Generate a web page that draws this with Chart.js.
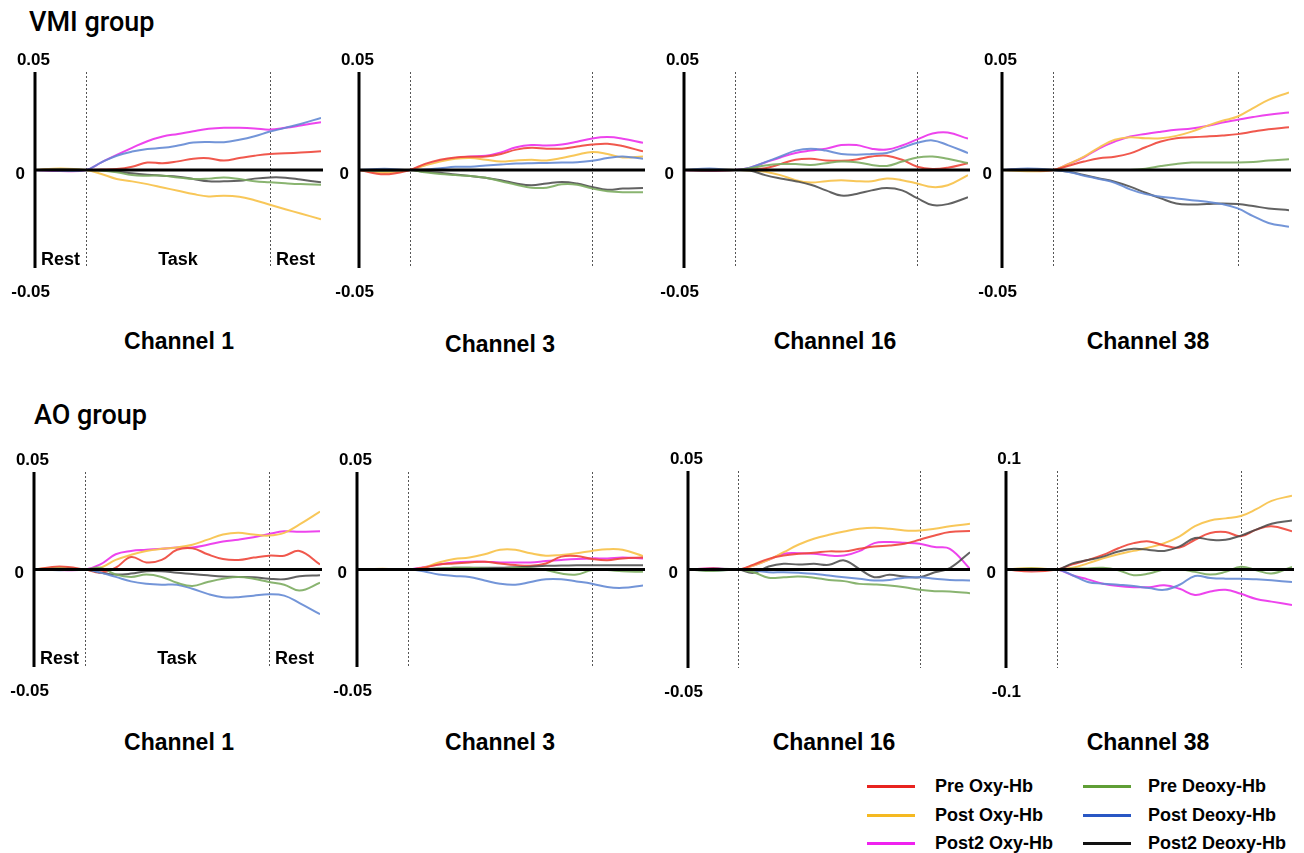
<!DOCTYPE html>
<html>
<head>
<meta charset="utf-8">
<script src="https://cdn.jsdelivr.net/npm/chart.js@4.4.1/dist/chart.umd.min.js"></script>
<style>
  body { margin: 0; background: #fff; width: 1304px; height: 853px; position: relative; overflow: hidden;
         font-family: "Liberation Sans", Arial, sans-serif; color: #000; }
  canvas { position: absolute; }
  .grp { position: absolute; font-family: Roboto, "Liberation Sans", Arial, sans-serif; font-weight: 500; font-size: 27px; line-height: 1; white-space: nowrap; }
  .ch { position: absolute; font-size: 23px; font-weight: bold; line-height: 1; white-space: nowrap; transform: translate(-50%, -50%); }
  .lg { position: absolute; font-size: 18px; font-weight: bold; line-height: 1; white-space: nowrap; transform: translateY(-50%); }
  .lgline { position: absolute; width: 48px; height: 3px; }
</style>
</head>
<body>
<script>
// time axis (s): rest 0-10, task 10-46, rest 46-56
const times = [0, 5, 10, 13, 16, 19, 22, 25, 28, 31, 34, 37, 40, 43, 46, 49, 52, 56];
const phaseBounds = [0, 10, 46, 56];
const phaseLabels = ['Rest', 'Task', 'Rest'];

const seriesNames = ['Pre Oxy-Hb', 'Post Oxy-Hb', 'Post2 Oxy-Hb', 'Pre Deoxy-Hb', 'Post Deoxy-Hb', 'Post2 Deoxy-Hb'];
const groupNames = ['VMI group', 'AO group'];
const channelNames = ['Channel 1', 'Channel 3', 'Channel 16', 'Channel 38'];
const yLimits = [0.05, 0.05, 0.05, 0.05, 0.05, 0.05, 0.05, 0.1];
const tickTop = ['0.05', '0.05', '0.05', '0.05', '0.05', '0.05', '0.05', '0.1'];
const tickBottom = ['-0.05', '-0.05', '-0.05', '-0.05', '-0.05', '-0.05', '-0.05', '-0.1'];

// VMI group, Channel 1
const vmi1_preOxy     = [0, 0.0003, 0, 0.0002, 0.0005, 0.0017, 0.0038, 0.0034, 0.0044, 0.0058, 0.006, 0.0048, 0.0061, 0.0073, 0.0082, 0.0085, 0.0089, 0.0096];
const vmi1_postOxy    = [0, 0.0008, 0, -0.002, -0.0046, -0.0058, -0.0072, -0.0089, -0.0106, -0.0123, -0.0135, -0.0131, -0.0136, -0.0154, -0.0177, -0.02, -0.0222, -0.0251];
const vmi1_post2Oxy   = [0, -0.0005, 0, 0.0039, 0.0077, 0.0113, 0.0147, 0.0171, 0.0184, 0.0198, 0.021, 0.0215, 0.0215, 0.0212, 0.0206, 0.0215, 0.0227, 0.0244];
const vmi1_preDeoxy   = [0, 0.0003, 0, -0.0003, -0.0012, -0.0026, -0.0029, -0.0029, -0.0038, -0.0046, -0.0044, -0.0038, -0.0046, -0.0058, -0.0063, -0.0068, -0.0072, -0.0075];
const vmi1_postDeoxy  = [0, -0.0004, 0, 0.0039, 0.0073, 0.0094, 0.0107, 0.0113, 0.0125, 0.014, 0.0143, 0.0142, 0.0154, 0.0172, 0.0196, 0.0215, 0.0235, 0.0266];
const vmi1_post2Deoxy = [0, 0.0002, 0, -0.0002, -0.0007, -0.0017, -0.0024, -0.0029, -0.0034, -0.0046, -0.0058, -0.0058, -0.0055, -0.0044, -0.0038, -0.0039, -0.0049, -0.0063];

// VMI group, Channel 3
const vmi3_preOxy     = [0, -0.0022, 0, 0.0031, 0.0052, 0.0064, 0.0068, 0.0069, 0.0082, 0.0104, 0.0113, 0.0109, 0.0109, 0.012, 0.013, 0.0134, 0.0122, 0.0095];
const vmi3_postOxy    = [0, -0.0015, 0, 0.0023, 0.0043, 0.0057, 0.0061, 0.0052, 0.0043, 0.0049, 0.0052, 0.0049, 0.0061, 0.0078, 0.0092, 0.0082, 0.0064, 0.0069];
const vmi3_post2Oxy   = [0, -0.0008, 0, 0.0026, 0.0047, 0.0061, 0.0069, 0.0073, 0.009, 0.0116, 0.0127, 0.0125, 0.013, 0.0144, 0.0161, 0.0168, 0.016, 0.0139];
const vmi3_preDeoxy   = [0, -0.0005, 0, -0.0012, -0.0021, -0.0026, -0.0031, -0.004, -0.0057, -0.0075, -0.009, -0.009, -0.0073, -0.0075, -0.0095, -0.0108, -0.0113, -0.0113];
const vmi3_postDeoxy  = [0, 0.0006, 0, 0.0002, 0.0009, 0.0016, 0.0017, 0.0023, 0.0028, 0.0033, 0.0035, 0.0036, 0.0038, 0.004, 0.0047, 0.0061, 0.0069, 0.0057];
const vmi3_post2Deoxy = [0, -0.0004, 0, -0.0009, -0.0014, -0.0023, -0.0031, -0.004, -0.0052, -0.0069, -0.0078, -0.0069, -0.0061, -0.0069, -0.0087, -0.0101, -0.0095, -0.0092];

// VMI group, Channel 16
const vmi16_preOxy     = [0, -0.0003, 0, 0.0003, 0.0009, 0.003, 0.0052, 0.0057, 0.0049, 0.0047, 0.0054, 0.0069, 0.0073, 0.0052, 0.0017, 0.0005, 0.0012, 0.0035];
const vmi16_postOxy    = [0, 0.0002, 0, -0.0002, -0.0009, -0.0026, -0.0052, -0.0064, -0.0057, -0.0052, -0.0057, -0.0057, -0.0043, -0.0052, -0.0069, -0.0087, -0.0078, -0.0026];
const vmi16_post2Oxy   = [0, -0.0004, 0, 0.0012, 0.0038, 0.0064, 0.0087, 0.0099, 0.0109, 0.0127, 0.0127, 0.0109, 0.0104, 0.0125, 0.0156, 0.0186, 0.0191, 0.016];
const vmi16_preDeoxy   = [0, 0, 0, 0.0009, 0.0023, 0.003, 0.003, 0.0026, 0.0035, 0.0043, 0.004, 0.0026, 0.0021, 0.0043, 0.0064, 0.0069, 0.0057, 0.0035];
const vmi16_postDeoxy  = [0, 0.0008, 0, 0.0012, 0.004, 0.0069, 0.0099, 0.0109, 0.0099, 0.0082, 0.0078, 0.0082, 0.0087, 0.0113, 0.0139, 0.0151, 0.0127, 0.0087];
const vmi16_post2Deoxy = [0, -0.0002, 0, -0.0003, -0.0026, -0.0043, -0.0057, -0.0075, -0.0104, -0.013, -0.0122, -0.0104, -0.0092, -0.0104, -0.0144, -0.0179, -0.0174, -0.0139];

// VMI group, Channel 38
const vmi38_preOxy     = [0, 0, 0, 0.0022, 0.0043, 0.006, 0.0068, 0.0085, 0.0116, 0.0145, 0.0162, 0.0167, 0.0171, 0.0176, 0.0183, 0.0196, 0.0208, 0.0218];
const vmi38_postOxy    = [0, -0.0006, 0, 0.0031, 0.0068, 0.0116, 0.0154, 0.0167, 0.0162, 0.0162, 0.0174, 0.0196, 0.0225, 0.0251, 0.0273, 0.0316, 0.0358, 0.0396];
const vmi38_post2Oxy   = [0, 0.0003, 0, 0.0031, 0.0065, 0.0111, 0.0145, 0.0171, 0.0184, 0.0195, 0.0205, 0.0212, 0.0225, 0.0242, 0.0256, 0.027, 0.0282, 0.0293];
const vmi38_preDeoxy   = [0, 0, 0, 0, 0, 0, 0, 0, 0.0007, 0.002, 0.0031, 0.0038, 0.0038, 0.0038, 0.0038, 0.0041, 0.0048, 0.0055];
const vmi38_postDeoxy  = [0, 0.0008, 0, -0.001, -0.0029, -0.0046, -0.0065, -0.0099, -0.0123, -0.0136, -0.0145, -0.0154, -0.0162, -0.0174, -0.0196, -0.0235, -0.027, -0.029];
const vmi38_post2Deoxy = [0, 0.0004, 0, -0.0009, -0.0026, -0.0043, -0.006, -0.0085, -0.0116, -0.0145, -0.0171, -0.0176, -0.0174, -0.0171, -0.0174, -0.0184, -0.0196, -0.0205];

// AO group, Channel 1
const ao1_preOxy     = [0, 0.0015, 0, -0.0016, 0.0009, 0.0064, 0.0036, 0.0049, 0.0101, 0.0109, 0.0078, 0.0054, 0.0049, 0.0061, 0.0071, 0.0071, 0.0095, 0.0026];
const ao1_postOxy    = [0, 0.001, 0, 0.0009, 0.0049, 0.0075, 0.0095, 0.0106, 0.0113, 0.0127, 0.0153, 0.0179, 0.0188, 0.0179, 0.0174, 0.0188, 0.0231, 0.0297];
const ao1_post2Oxy   = [0, -0.0003, 0, 0.0026, 0.0078, 0.0095, 0.0101, 0.0106, 0.0113, 0.0113, 0.0127, 0.0144, 0.0153, 0.0165, 0.0182, 0.0196, 0.0193, 0.0196];
const ao1_preDeoxy   = [0, 0.0005, 0, 0.0009, -0.0026, -0.0038, -0.0026, -0.0038, -0.0068, -0.0085, -0.0064, -0.0047, -0.0038, -0.0047, -0.0064, -0.0078, -0.0108, -0.0068];
const ao1_postDeoxy  = [0, -0.0004, 0, -0.0016, -0.0038, -0.0061, -0.0073, -0.0078, -0.0078, -0.0099, -0.0125, -0.0142, -0.0142, -0.0134, -0.0127, -0.0134, -0.0172, -0.0229];
const ao1_post2Deoxy = [0, 0.0003, 0, -0.0016, -0.0026, -0.0021, -0.0009, -0.0009, -0.0017, -0.0023, -0.003, -0.0036, -0.0038, -0.004, -0.0047, -0.005, -0.0035, -0.003];

// AO group, Channel 3
const ao3_preOxy     = [0, 0.0002, 0, 0.0009, 0.0026, 0.0031, 0.0036, 0.004, 0.0031, 0.0023, 0.0019, 0.0031, 0.0066, 0.0069, 0.0054, 0.0047, 0.0057, 0.0061];
const ao3_postOxy    = [0, 0.0004, 0, 0.0009, 0.0036, 0.0054, 0.0061, 0.0078, 0.0101, 0.0101, 0.0083, 0.0071, 0.0075, 0.0083, 0.0095, 0.0104, 0.0101, 0.0069];
const ao3_post2Oxy   = [0, 0.0002, 0, 0.0012, 0.0026, 0.0036, 0.004, 0.004, 0.0036, 0.0036, 0.0036, 0.0043, 0.0049, 0.0054, 0.0057, 0.0057, 0.0061, 0.0057];
const ao3_preDeoxy   = [0, 0.0003, 0, 0, 0.0005, 0.0009, 0.0009, 0.0005, 0.0002, 0.0009, 0.0005, -0.0003, -0.0021, -0.0026, -0.0003, -0.0003, -0.0009, -0.0012];
const ao3_postDeoxy  = [0, 0.0002, 0, -0.0009, -0.0026, -0.0033, -0.0038, -0.0056, -0.0073, -0.0078, -0.0064, -0.005, -0.005, -0.0061, -0.0073, -0.009, -0.0094, -0.0082];
const ao3_post2Deoxy = [0, 0.0001, 0, 0.0002, 0.0005, 0.0009, 0.0009, 0.0009, 0.0009, 0.0012, 0.0014, 0.0019, 0.002, 0.0022, 0.0022, 0.0022, 0.0022, 0.0022];

// AO group, Channel 16
const ao16_preOxy     = [0, 0.0005, 0, 0.0025, 0.0054, 0.0071, 0.008, 0.0085, 0.0092, 0.0092, 0.0105, 0.0117, 0.0122, 0.0131, 0.0151, 0.0173, 0.019, 0.0195];
const ao16_postOxy    = [0, 0.0003, 0, 0.002, 0.0049, 0.0088, 0.0127, 0.0156, 0.0176, 0.0193, 0.0207, 0.0212, 0.0207, 0.0198, 0.0198, 0.0207, 0.0219, 0.0232];
const ao16_post2Oxy   = [0, 0.0006, 0, 0.002, 0.0049, 0.008, 0.0083, 0.008, 0.0071, 0.0071, 0.0093, 0.0134, 0.0139, 0.0136, 0.0131, 0.0114, 0.0105, 0.0003];
const ao16_preDeoxy   = [0, -0.0008, 0, -0.0014, -0.0042, -0.0039, -0.0036, -0.0042, -0.0053, -0.0059, -0.0073, -0.0076, -0.0081, -0.009, -0.0103, -0.011, -0.0112, -0.012];
const ao16_postDeoxy  = [0, -0.0006, 0, -0.0005, -0.0014, -0.0014, -0.0017, -0.0022, -0.0031, -0.0039, -0.0047, -0.0056, -0.0053, -0.0042, -0.0039, -0.0047, -0.0053, -0.0056];
const ao16_post2Deoxy = [0, 0.0004, 0, -0.0017, 0.0015, 0.0029, 0.0025, 0.0029, 0.0024, 0.0046, 0.0003, -0.0039, -0.0027, -0.0036, -0.0039, -0.0014, 0.0007, 0.0088];

// AO group, Channel 38
const ao38_preOxy     = [0, -0.002, 0, 0.0052, 0.0096, 0.0148, 0.0216, 0.0268, 0.0285, 0.0244, 0.0223, 0.0302, 0.0371, 0.0381, 0.0337, 0.0405, 0.044, 0.0388];
const ao38_postOxy    = [0, 0.0015, 0, 0.0017, 0.0062, 0.0113, 0.0155, 0.0189, 0.0223, 0.0268, 0.0337, 0.044, 0.0498, 0.0519, 0.0543, 0.0612, 0.0697, 0.0749];
const ao38_post2Oxy   = [0, -0.0005, 0, -0.0058, -0.01, -0.0144, -0.0168, -0.0179, -0.0179, -0.0161, -0.0196, -0.0258, -0.0223, -0.0206, -0.0247, -0.0299, -0.0326, -0.0361];
const ao38_preDeoxy   = [0, 0.001, 0, 0.001, 0.001, 0.0017, -0.0007, -0.0058, -0.0041, 0, 0.0003, -0.0024, -0.0052, -0.0024, 0.0027, -0.0007, -0.0041, 0.0027];
const ao38_postDeoxy  = [0, -0.0008, 0, -0.0058, -0.0127, -0.0144, -0.0155, -0.0168, -0.0189, -0.0206, -0.0155, -0.0065, -0.0086, -0.0093, -0.0093, -0.01, -0.011, -0.0127];
const ao38_post2Deoxy = [0, 0.0005, 0, 0.0062, 0.0096, 0.0131, 0.0182, 0.021, 0.0199, 0.0189, 0.0234, 0.032, 0.0302, 0.0302, 0.0344, 0.0405, 0.0464, 0.0498];

const panelSeries = [
  [vmi1_preOxy, vmi1_postOxy, vmi1_post2Oxy, vmi1_preDeoxy, vmi1_postDeoxy, vmi1_post2Deoxy],
  [vmi3_preOxy, vmi3_postOxy, vmi3_post2Oxy, vmi3_preDeoxy, vmi3_postDeoxy, vmi3_post2Deoxy],
  [vmi16_preOxy, vmi16_postOxy, vmi16_post2Oxy, vmi16_preDeoxy, vmi16_postDeoxy, vmi16_post2Deoxy],
  [vmi38_preOxy, vmi38_postOxy, vmi38_post2Oxy, vmi38_preDeoxy, vmi38_postDeoxy, vmi38_post2Deoxy],
  [ao1_preOxy, ao1_postOxy, ao1_post2Oxy, ao1_preDeoxy, ao1_postDeoxy, ao1_post2Deoxy],
  [ao3_preOxy, ao3_postOxy, ao3_post2Oxy, ao3_preDeoxy, ao3_postDeoxy, ao3_post2Deoxy],
  [ao16_preOxy, ao16_postOxy, ao16_post2Oxy, ao16_preDeoxy, ao16_postDeoxy, ao16_post2Deoxy],
  [ao38_preOxy, ao38_postOxy, ao38_post2Oxy, ao38_preDeoxy, ao38_postDeoxy, ao38_post2Deoxy]
];

// styles / layout
const lineColors = ['rgba(238,70,58,0.9)', 'rgba(248,196,80,0.95)', 'rgba(236,58,236,0.95)',
                    'rgba(124,172,96,0.9)', 'rgba(100,138,212,0.9)', 'rgba(70,70,70,0.85)'];
const legendColors = ['#e8231f', '#f5b921', '#ef22ef', '#5f9e35', '#2957c4', '#111111'];
const drawOrder = [3, 4, 5, 0, 1, 2];

// canvas box and axis frame, page pixels
const panels = [
  { left: 0,   top: 40,  w: 330, h: 270, ax: 35,   end: 321,  yTop: 72,  yBot: 268 },
  { left: 330, top: 40,  w: 320, h: 270, ax: 359,  end: 643,  yTop: 72,  yBot: 268 },
  { left: 650, top: 40,  w: 320, h: 270, ax: 684,  end: 968,  yTop: 72,  yBot: 268 },
  { left: 970, top: 40,  w: 334, h: 270, ax: 1002, end: 1289, yTop: 72,  yBot: 268 },
  { left: 0,   top: 440, w: 330, h: 270, ax: 34,   end: 320,  yTop: 472, yBot: 667 },
  { left: 330, top: 440, w: 320, h: 270, ax: 357,  end: 643,  yTop: 472, yBot: 667 },
  { left: 650, top: 440, w: 320, h: 270, ax: 688,  end: 976,  yTop: 471, yBot: 668 },
  { left: 970, top: 440, w: 334, h: 270, ax: 1006, end: 1292, yTop: 471, yBot: 668 }
];
const channelPos = [[179, 341], [500, 344], [835, 341], [1148, 341], [179, 742], [500, 742], [834, 742], [1148, 742]];

const frame = {
  id: 'frame',
  beforeDatasetsDraw(chart, args, o) {
    const { ctx, chartArea: a, scales: { x } } = chart;
    ctx.save();
    ctx.strokeStyle = '#555';
    ctx.lineWidth = 1;
    ctx.setLineDash([2, 2]);
    [phaseBounds[1], phaseBounds[2]].forEach(t => {
      const px = Math.round(x.getPixelForValue(t)) + 0.5;
      ctx.beginPath(); ctx.moveTo(px, a.top); ctx.lineTo(px, a.bottom); ctx.stroke();
    });
    ctx.restore();
  },
  afterDatasetsDraw(chart, args, o) {
    const { ctx, chartArea: a, scales: { x, y } } = chart;
    const y0 = y.getPixelForValue(0);
    ctx.save();
    ctx.strokeStyle = '#000';
    ctx.lineWidth = 3;
    ctx.beginPath(); ctx.moveTo(a.left, a.top); ctx.lineTo(a.left, a.bottom); ctx.stroke();
    ctx.beginPath(); ctx.moveTo(a.left, y0); ctx.lineTo(a.right + 2, y0); ctx.stroke();
    ctx.fillStyle = '#000';
    ctx.font = 'bold 17px "Liberation Sans", Arial, sans-serif';
    ctx.textAlign = 'right';
    ctx.textBaseline = 'alphabetic';
    ctx.fillText(o.top, a.left + 15, a.top - 7);
    ctx.fillText(o.bottom, a.left + 15, a.bottom + 29);
    ctx.textBaseline = 'middle';
    ctx.fillText('0', a.left - 10, y0 + 4);
    if (o.phases) {
      ctx.font = 'bold 18px "Liberation Sans", Arial, sans-serif';
      ctx.textAlign = 'center';
      ctx.textBaseline = 'alphabetic';
      phaseLabels.forEach((lab, i) => {
        const cx = (x.getPixelForValue(phaseBounds[i]) + x.getPixelForValue(phaseBounds[i + 1])) / 2;
        ctx.fillText(lab, cx, a.bottom - 3);
      });
    }
    ctx.restore();
  }
};

panels.forEach((p, i) => {
  const c = document.createElement('canvas');
  c.width = p.w; c.height = p.h;
  c.style.left = p.left + 'px'; c.style.top = p.top + 'px';
  document.body.appendChild(c);
  const lim = yLimits[i];
  new Chart(c, {
    type: 'line',
    data: {
      datasets: drawOrder.map(k => ({
        label: seriesNames[k],
        data: times.map((t, j) => ({ x: t, y: panelSeries[i][k][j] })),
        borderColor: lineColors[k],
        borderWidth: 2,
        pointRadius: 0,
        tension: 0.4,
        fill: false
      }))
    },
    options: {
      responsive: false,
      animation: false,
      events: [],
      layout: { padding: { left: p.ax - p.left, right: p.left + p.w - p.end, top: p.yTop - p.top, bottom: p.top + p.h - p.yBot } },
      scales: {
        x: { type: 'linear', min: phaseBounds[0], max: phaseBounds[3], display: false },
        y: { min: -lim, max: lim, display: false }
      },
      plugins: {
        legend: { display: false },
        tooltip: { enabled: false },
        frame: { top: tickTop[i], bottom: tickBottom[i], phases: i % 4 === 0 }
      }
    },
    plugins: [frame]
  });
});

// titles
function addDiv(cls, text, css) {
  const d = document.createElement('div');
  d.className = cls;
  d.textContent = text;
  Object.assign(d.style, css);
  document.body.appendChild(d);
  return d;
}
addDiv('grp', groupNames[0], { left: '29px', top: '9px' });
addDiv('grp', groupNames[1], { left: '34px', top: '402px' });
channelPos.forEach((pos, i) => addDiv('ch', channelNames[i % 4], { left: pos[0] + 'px', top: pos[1] + 'px' }));

// legend: two columns of three
const legendCols = [[867, 935], [1083, 1148]];
const legendRows = [786, 815, 843];
seriesNames.forEach((name, k) => {
  const col = legendCols[Math.floor(k / 3)];
  const row = legendRows[k % 3];
  const l = document.createElement('div');
  l.className = 'lgline';
  l.style.left = col[0] + 'px';
  l.style.top = (row - 1) + 'px';
  l.style.background = legendColors[k];
  document.body.appendChild(l);
  addDiv('lg', name, { left: col[1] + 'px', top: row + 'px' });
});
</script>
</body>
</html>
